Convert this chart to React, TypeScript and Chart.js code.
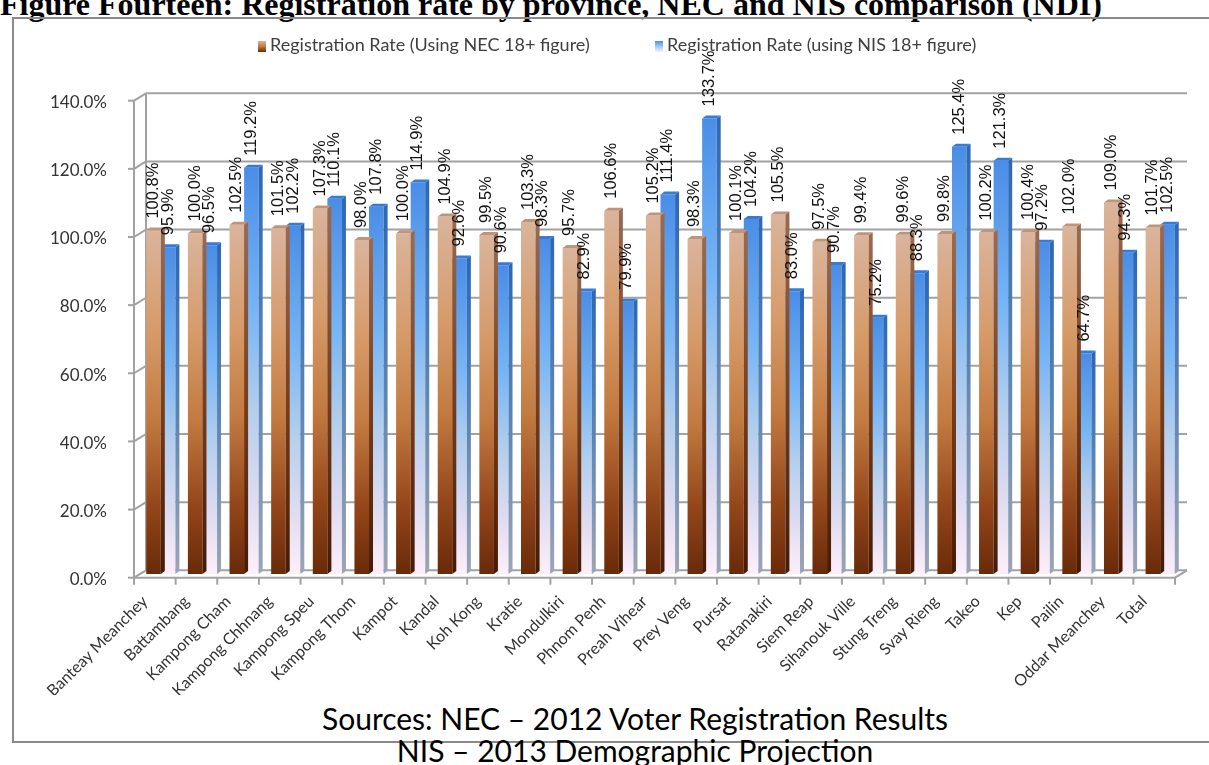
import React, { useEffect, useRef } from "react";
import { Chart, registerables } from "chart.js";

Chart.register(...registerables);

const provinces = [
  "Banteay Meanchey", "Battambang", "Kampong Cham", "Kampong Chhnang", "Kampong Speu",
  "Kampong Thom", "Kampot", "Kandal", "Koh Kong", "Kratie", "Mondulkiri", "Phnom Penh",
  "Preah Vihear", "Prey Veng", "Pursat", "Ratanakiri", "Siem Reap", "Sihanouk Ville",
  "Stung Treng", "Svay Rieng", "Takeo", "Kep", "Pailin", "Oddar Meanchey", "Total",
];

const necRates = [
  100.8, 100.0, 102.5, 101.5, 107.3, 98.0, 100.0, 104.9, 99.5, 103.3, 95.7, 106.6,
  105.2, 98.3, 100.1, 105.5, 97.5, 99.4, 99.6, 99.8, 100.2, 100.4, 102.0, 109.0, 101.7,
];

const nisRates = [
  95.9, 96.5, 119.2, 102.2, 110.1, 107.8, 114.9, 92.6, 90.6, 98.3, 82.9, 79.9,
  111.4, 133.7, 104.2, 83.0, 90.7, 75.2, 88.3, 125.4, 121.3, 97.2, 64.7, 94.3, 102.5,
];

const yTicks = [0, 20, 40, 60, 80, 100, 120, 140];

const seriesNames = [
  "Registration Rate (Using NEC 18+ figure)",
  "Registration Rate (using NIS 18+ figure)",
];

const titleText =
  "Figure Fourteen: Registration rate by province, NEC and NIS comparison (NDI)";

const sourceLines = [
  "Sources: NEC \u2013 2012 Voter Registration Results",
  "NIS \u2013 2013 Demographic Projection",
];

type Stop = [number, string];

const necStops: Stop[] = [
  [0, "#dab49c"],
  [0.3, "#d69a68"],
  [0.55, "#c27a40"],
  [0.8, "#94461a"],
  [1, "#692a08"],
];
const nisStops: Stop[] = [
  [0, "#4a8de6"],
  [0.35, "#76b5f6"],
  [0.6, "#b3cfee"],
  [0.82, "#dedcf2"],
  [1, "#fdeffa"],
];
const necSideStops: Stop[] = [
  [0, "#9a6a50"],
  [0.5, "#7a3e1a"],
  [1, "#461a04"],
];
const nisSideStops: Stop[] = [
  [0, "#2c68b8"],
  [0.5, "#5a84b4"],
  [1, "#9ea5b6"],
];

function barGradient(c: any, stops: Stop[]) {
  const chart = c.chart;
  if (!chart.chartArea || !c.parsed || !chart.scales.y) return stops[1][1];
  const ys = chart.scales.y;
  const top = ys.getPixelForValue(c.parsed.y);
  const bottom = ys.getPixelForValue(0);
  if (!isFinite(top) || !isFinite(bottom) || Math.abs(bottom - top) < 1) return stops[1][1];
  const g = chart.ctx.createLinearGradient(0, top, 0, bottom);
  stops.forEach(([o, col]) => g.addColorStop(o, col));
  return g;
}

const DX = 4;
const DY = 3;
const F = 3.7; // half depth offset of the walls (vertical)
const BX = 6; // half depth offset of the walls (horizontal)

const wallPlugin = {
  id: "wall3d",
  beforeDatasetsDraw(chart: any) {
    const { ctx, chartArea: a, scales } = chart;
    const y = scales.y;
    const line = (x1: number, y1: number, x2: number, y2: number) => {
      ctx.beginPath();
      ctx.moveTo(x1, y1);
      ctx.lineTo(x2, y2);
      ctx.stroke();
    };
    ctx.save();
    ctx.strokeStyle = "#a2a2a2";
    ctx.lineWidth = 2;
    const yTop = y.getPixelForValue(yTicks[yTicks.length - 1]);
    const y0 = y.getPixelForValue(0);
    line(a.left - BX, yTop + F, a.left - BX, y0 + F);
    line(a.left + BX, yTop - F, a.left + BX, y0 - F);
    yTicks.forEach((v) => {
      const p = y.getPixelForValue(v);
      line(a.left - BX - 6, p + F, a.left - BX, p + F);
      line(a.left - BX, p + F, a.left + BX, p - F);
      line(a.left + BX, p - F, a.right + BX, p - F);
    });
    line(a.left - BX, y0 + F, a.right - BX, y0 + F);
    line(a.right - BX, y0 + F, a.right + BX, y0 - F);
    const n = provinces.length;
    const step = (a.right - a.left) / n;
    for (let k = 0; k <= n; k++) {
      const px = a.left - BX + k * step;
      line(px, y0 + F, px, y0 + F + 7);
    }
    ctx.restore();
  },
};

const bar3dPlugin = {
  id: "bar3d",
  afterDatasetDraw(chart: any, args: any) {
    const { ctx } = chart;
    const idx = args.index;
    const sideStops = idx === 0 ? necSideStops : nisSideStops;
    const cap = idx === 0 ? "#c09478" : "#3a7bd2";
    ctx.save();
    args.meta.data.forEach((el: any) => {
      const { x, y, base, width } = el.getProps(["x", "y", "base", "width"], true);
      const l = x - width / 2;
      const r = x + width / 2;
      const g = ctx.createLinearGradient(0, y, 0, base);
      sideStops.forEach(([o, col]) => g.addColorStop(o, col));
      ctx.fillStyle = g;
      ctx.beginPath();
      ctx.moveTo(r, y);
      ctx.lineTo(r + DX, y - DY);
      ctx.lineTo(r + DX, base - DY);
      ctx.lineTo(r, base);
      ctx.closePath();
      ctx.fill();
      ctx.fillStyle = cap;
      ctx.beginPath();
      ctx.moveTo(l, y);
      ctx.lineTo(l + DX, y - DY);
      ctx.lineTo(r + DX, y - DY);
      ctx.lineTo(r, y);
      ctx.closePath();
      ctx.fill();
    });
    ctx.restore();
  },
};

const valueLabelPlugin = {
  id: "valueLabels",
  afterDatasetsDraw(chart: any) {
    const { ctx } = chart;
    ctx.save();
    ctx.font = '16.5px "Liberation Sans", Arial, sans-serif';
    ctx.fillStyle = "#111";
    ctx.textAlign = "left";
    ctx.textBaseline = "middle";
    chart.data.datasets.forEach((ds: any, i: number) => {
      const meta = chart.getDatasetMeta(i);
      meta.data.forEach((el: any, j: number) => {
        const { x, y } = el.getProps(["x", "y"], true);
        ctx.save();
        ctx.translate(x, y - 12);
        ctx.rotate(-Math.PI / 2);
        ctx.fillText(ds.data[j].toFixed(1) + "%", 0, 0);
        ctx.restore();
      });
    });
    ctx.restore();
  },
};

export default function App() {
  const ref = useRef<HTMLCanvasElement>(null);

  useEffect(() => {
    if (!ref.current) return;
    const chart = new Chart(ref.current, {
      type: "bar",
      data: {
        labels: provinces,
        datasets: [
          {
            label: seriesNames[0],
            data: necRates,
            backgroundColor: (c: any) => barGradient(c, necStops),
            borderWidth: 0,
            categoryPercentage: 0.7,
            barPercentage: 1.0,
          },
          {
            label: seriesNames[1],
            data: nisRates,
            backgroundColor: (c: any) => barGradient(c, nisStops),
            borderWidth: 0,
            categoryPercentage: 0.7,
            barPercentage: 1.0,
          },
        ],
      },
      options: {
        responsive: false,
        animation: false,
        devicePixelRatio: 1,
        layout: { padding: { top: 78, right: 28, bottom: 4, left: 0 } },
        plugins: {
          legend: { display: false },
          tooltip: { enabled: false },
        },
        scales: {
          x: {
            grid: { display: false },
            border: { display: false },
            ticks: {
              autoSkip: false,
              maxRotation: 45,
              minRotation: 45,
              labelOffset: -16,
              padding: 10,
              color: "#333",
              font: { family: "Lato", size: 16 },
            },
            afterFit: (s: any) => {
              s.height = 121;
            },
          },
          y: {
            min: 0,
            max: 140,
            grid: { display: false },
            border: { display: false },
            ticks: {
              stepSize: 20,
              padding: 25,
              labelOffset: 5.5,
              color: "#333",
              font: { family: "Lato", size: 17 },
              callback: (v: any) => Number(v).toFixed(1) + "%",
            },
            afterFit: (s: any) => {
              s.width = 127;
            },
          },
        },
      },
      plugins: [wallPlugin, bar3dPlugin, valueLabelPlugin],
    } as any);
    return () => chart.destroy();
  }, []);

  const legendText: React.CSSProperties = {
    position: "absolute",
    top: 34,
    font: '18px Lato, sans-serif',
    color: "#404040",
    whiteSpace: "nowrap",
    lineHeight: "20px",
  };

  const sourceStyle: React.CSSProperties = {
    position: "absolute",
    left: 0,
    width: 1270,
    textAlign: "center",
    font: '30px Lato, sans-serif',
    lineHeight: "34px",
    color: "#000",
    whiteSpace: "nowrap",
  };

  return (
    <div
      style={{
        position: "fixed",
        left: 0,
        top: 0,
        width: 1209,
        height: 765,
        overflow: "hidden",
        background: "#fff",
      }}
    >
      <div
        style={{
          position: "absolute",
          left: 0,
          top: -16,
          whiteSpace: "nowrap",
          font: 'bold 32px "Liberation Serif", serif',
          lineHeight: "40px",
          color: "#000",
        }}
      >
        {titleText}
      </div>
      <div
        style={{
          position: "absolute",
          left: 12,
          top: 17,
          width: 1230,
          height: 726,
          border: "2px solid #8a8a8a",
          boxSizing: "border-box",
        }}
      />
      <canvas
        ref={ref}
        width={1196}
        height={680}
        style={{ position: "absolute", left: 13, top: 19, width: 1196, height: 680 }}
      />
      <div style={{ ...legendText, left: 258 }}>
        <span
          style={{
            display: "inline-block",
            width: 8,
            height: 11,
            marginRight: 4,
            verticalAlign: "-1px",
            background: "linear-gradient(#d9b29a, #c27a3e, #6b2a08)",
          }}
        />
        {seriesNames[0]}
      </div>
      <div style={{ ...legendText, left: 655 }}>
        <span
          style={{
            display: "inline-block",
            width: 8,
            height: 11,
            marginRight: 4,
            verticalAlign: "-1px",
            background: "linear-gradient(#4a8ee6, #9fcaf5, #fdeffa)",
          }}
        />
        {seriesNames[1]}
      </div>
      <div style={{ ...sourceStyle, top: 701 }}>{sourceLines[0]}</div>
      <div style={{ ...sourceStyle, top: 733 }}>{sourceLines[1]}</div>
    </div>
  );
}
